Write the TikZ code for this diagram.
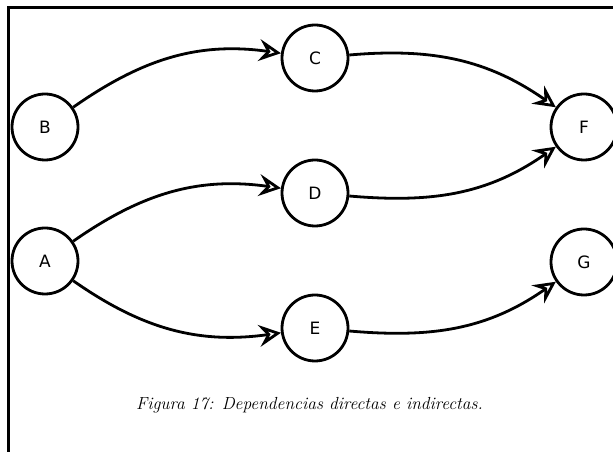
\documentclass[tikz,border=0pt]{standalone}
\usepackage{fontspec}
\newfontfamily\nodefont{DejaVu Sans}
\usetikzlibrary{arrows.meta}
\tikzset{
  vert/.style={circle, draw, line width=2.8pt, minimum size=66pt, inner sep=0pt, font=\nodefont\fontsize{17}{17}\selectfont},
  dep/.style={line width=2.8pt, -{Stealth[open, length=22pt, width=22pt, inset=8pt]}},
  frame/.style={line width=3pt}
}
\begin{document}
\begin{tikzpicture}[x=1pt,y=1pt]
\useasboundingbox (0,0) rectangle (613,452);
\draw[frame] (8.5,0) -- (8.5,444) -- (613,444);
\node[vert] (B) at (45,325) {B};
\node[vert] (A) at (45,191) {A};
\node[vert] (C) at (315,394) {C};
\node[vert] (D) at (315,259) {D};
\node[vert] (E) at (315,124) {E};
\node[vert] (F) at (584,325) {F};
\node[vert] (G) at (584,190) {G};
\draw[dep] (B) to[out=35,in=172] (C);
\draw[dep] (A) to[out=35,in=172] (D);
\draw[dep] (A) to[out=-35,in=188] (E);
\draw[dep] (C) to[out=5,in=145] (F);
\draw[dep] (D) to[out=-5,in=215] (F);
\draw[dep] (E) to[out=-5,in=215] (G);
\node[font=\fontsize{17.5}{20}\selectfont\itshape] (cap) at (309.5,47) {Figura 17: Dependencias directas e indirectas.};
\end{tikzpicture}
\end{document}
